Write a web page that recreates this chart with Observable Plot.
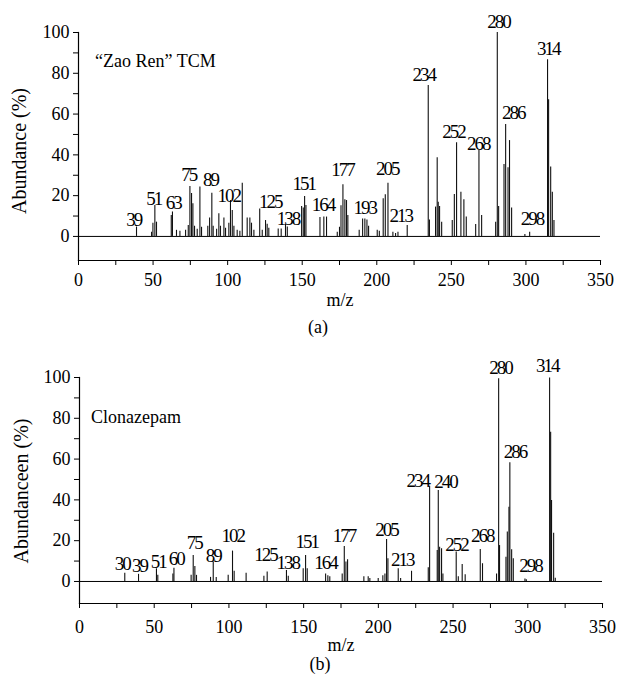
<!DOCTYPE html>
<html>
<head>
<meta charset="utf-8">
<script src="https://cdn.jsdelivr.net/npm/d3@7"></script>
<script src="https://cdn.jsdelivr.net/npm/@observablehq/plot@0.6"></script>
<style>
  body { margin: 0; background: #fff; }
  #fig { position: relative; width: 628px; height: 685px; font-family: "Liberation Serif", "Times New Roman", serif; color: #000; }
  #fig svg { position: absolute; left: 0; }
  .t { position: absolute; white-space: nowrap; transform: translate(-50%, -50%); line-height: 1; }
  .ylab { position: absolute; white-space: nowrap; transform: translate(-50%, -50%) rotate(-90deg); font-size: 20px; line-height: 1; }
  .leg { position: absolute; white-space: nowrap; font-size: 18px; line-height: 1; transform: translateY(-50%); }
</style>
</head>
<body>
<div id="fig"></div>
<script>
// ---------- data ----------
const xMajorTicks = [0, 50, 100, 150, 200, 250, 300, 350];
const xMinorTicks = [25, 75, 125, 175, 225, 275, 325];
const yMajorTicks = [0, 20, 40, 60, 80, 100];
const yMinorTicks = [10, 30, 50, 70, 90];

// (a) "Zao Ren" TCM spectrum
const tcmMz = [38.9, 49.0, 49.9, 51.2, 52.3, 62.2, 63.0, 65.7, 68.0, 71.8, 73.6, 74.7, 75.8, 76.7, 77.8, 79.6, 81.4, 82.5, 86.7, 87.9, 89.4, 90.3, 92.6, 94.1, 95.2, 97.5, 98.6, 100.8, 101.9, 103.1, 104.2, 106.4, 108.2, 109.8, 113.1, 114.9, 116.0, 117.6, 121.5, 123.2, 125.4, 126.5, 127.6, 133.9, 135.9, 138.8, 140.0, 149.6, 150.7, 151.6, 152.5, 161.9, 164.5, 166.3, 173.5, 175.0, 176.0, 177.3, 178.6, 179.7, 180.6, 188.2, 190.5, 192.0, 193.4, 194.5, 200.3, 201.7, 204.3, 205.7, 207.5, 210.8, 212.6, 214.2, 220.4, 234.5, 235.3, 239.4, 240.5, 241.2, 242.1, 243.5, 250.6, 252.0, 253.5, 256.4, 258.4, 260.0, 266.3, 268.5, 270.3, 279.7, 280.8, 281.7, 285.3, 286.4, 288.0, 289.0, 290.4, 299.3, 302.5, 314.5, 315.2, 316.6, 317.7, 318.8];
const tcmAb = [4.6, 2, 6.5, 15.2, 7, 10.3, 12, 3, 2.5, 3, 5.4, 24.5, 21, 16, 5, 3.5, 24.2, 4.5, 5, 9, 21.2, 5, 3.5, 11.1, 5, 9.1, 4, 6.5, 17.6, 12.7, 5, 3, 2.5, 26.1, 9, 9, 6.5, 3, 13.4, 3, 7.8, 6, 4, 3.7, 3.7, 5.9, 4.6, 14.7, 14, 19.6, 15.2, 9.3, 9.5, 9.5, 2, 4.5, 15, 25.3, 18, 17.6, 10.3, 3, 8.5, 8.5, 8, 5, 3, 2.5, 18.5, 20.4, 26.1, 2, 1.5, 2, 5.4, 74, 8, 14.4, 38.6, 16.8, 14.7, 7, 7.8, 20.6, 45.9, 21.7, 18, 9.5, 5.9, 42.2, 10.3, 7, 100, 14.7, 35.3, 54.9, 33.7, 47, 14, 1, 2.1, 86.6, 67, 34, 21.7, 7.8];
const tcmLabelText = ["39", "51", "63", "75", "89", "102", "125", "138", "151", "164", "177", "193", "205", "213", "234", "252", "268", "280", "286", "298", "314"];
const tcmLabelMz = [37, 50.5, 63.5, 74, 88.5, 100.8, 128.5, 140.5, 151, 164, 177, 192, 207, 216, 231.5, 251.5, 268, 281.6, 291.5, 304, 315];
const tcmLabelAb = [8.3, 18.6, 16.2, 30, 27.5, 20, 16.8, 8.4, 26, 15.7, 32.4, 14.2, 33.3, 10.3, 79, 51.5, 45.6, 105.4, 60.8, 8.8, 92];

// (b) Clonazepam spectrum
const clzMz = [30.3, 39.5, 51.5, 52.4, 62.5, 63.2, 74.7, 76.1, 77.2, 78.3, 87.7, 89.5, 91.5, 99.5, 102.4, 103.5, 111.5, 123.4, 125.6, 138.5, 139.7, 149.7, 151.3, 152.4, 164.7, 166.2, 167.5, 175.8, 177.2, 178.3, 179.4, 190.3, 193.2, 194.3, 199.9, 203.0, 204.4, 205.5, 206.4, 213.3, 214.9, 222.2, 233.4, 234.3, 239.4, 240.1, 241.0, 242.3, 243.2, 252.1, 253.5, 256.1, 258.1, 268.2, 269.7, 279.1, 280.5, 281.1, 285.4, 286.3, 287.4, 288.0, 289.2, 290.3, 298.1, 299.0, 314.6, 315.3, 315.9, 317.3, 318.4];
const clzAb = [4, 3.5, 6.2, 3, 3.7, 6.5, 3, 12.7, 7.3, 3, 2, 9.5, 2, 3, 14.9, 5, 4, 2.5, 4.6, 5.4, 2.5, 6.2, 12.7, 6.2, 3.7, 2.8, 2.3, 3.7, 17.2, 9.5, 10.6, 2.3, 2.3, 1.5, 1.5, 2.8, 3.7, 20.6, 11.1, 6.2, 1.5, 5, 6.7, 46.7, 15.2, 44.6, 16.8, 16, 3.7, 14.4, 2.3, 8.3, 3.3, 15.7, 8.7, 3.7, 99.4, 17.6, 11.9, 24.2, 36.4, 58.2, 15.5, 11.1, 1.2, 0.9, 99.8, 73.2, 39.7, 23.7, 1.6];
const clzLabelText = ["30", "39", "51", "60", "75", "89", "102", "125", "138", "151", "164", "177", "205", "213", "234", "240", "252", "268", "280", "286", "298", "314"];
const clzLabelMz = [28.6, 40.2, 52.7, 64.7, 76.8, 89.5, 102.6, 124.5, 139.4, 152, 164.7, 177, 205.5, 216, 226.4, 245, 252.3, 269.5, 281.8, 291.4, 301.9, 313];
const clzLabelAb = [8.7, 7.4, 9.8, 11.1, 19, 12.3, 22.5, 13.1, 9, 19.3, 9.2, 22.5, 25.3, 10.6, 49.5, 48.7, 18.1, 22.5, 104.7, 63.4, 7.8, 105.9];

// ---------- drawing ----------
function spectrum(o) {
  const peaks = o.mz.map((m, i) => ({ mz: m, ab: o.ab[i] }));
  const labels = o.labText.map((t, i) => ({ t, mz: o.labMz[i], ab: o.labAb[i] }));
  const svg = Plot.plot({
    width: 628,
    height: 310,
    marginTop: 32,
    marginBottom: o.marginBottom,
    marginLeft: o.marginLeft,
    marginRight: o.marginRight,
    x: { domain: [0, 350] },
    y: { domain: [o.yMin, 100] },
    style: { fontFamily: "Liberation Serif, Times New Roman, serif", fontSize: "18px", color: "#000", background: "transparent", overflow: "visible" },
    marks: [
      Plot.ruleY([0], { stroke: "#000", strokeWidth: 1 }),
      Plot.ruleX(peaks, { x: "mz", y1: 0, y2: "ab", stroke: "#111", strokeWidth: 1.1 }),
      Plot.frame({ anchor: "left", stroke: "#000", strokeWidth: 1.2 }),
      Plot.frame({ anchor: "bottom", stroke: "#000", strokeWidth: 1.2 }),
      Plot.axisY({ ticks: yMajorTicks, tickSize: 5, tickPadding: 4, label: null, fontSize: 18 }),
      Plot.axisY({ ticks: yMinorTicks, tickSize: 5, tickFormat: () => "", label: null }),
      Plot.axisX({ ticks: xMajorTicks, tickSize: 5, tickPadding: o.xPad, label: null, fontSize: 18 }),
      Plot.axisX({ ticks: xMinorTicks, tickSize: 5, tickFormat: () => "", label: null }),
      Plot.text(labels, { x: "mz", y: "ab", text: "t", fontSize: 19, lineAnchor: "middle", fill: "#000", ariaLabel: "peak" })
    ]
  });
  d3.select(svg).selectAll("g[aria-label='text'] text").attr("letter-spacing", "-2px");
  svg.style.top = o.top + "px";
  return svg;
}

const fig = document.getElementById("fig");
fig.appendChild(spectrum({
  mz: tcmMz, ab: tcmAb, labText: tcmLabelText, labMz: tcmLabelMz, labAb: tcmLabelAb,
  yMin: -11.8, marginBottom: 50, marginLeft: 78, marginRight: 28, xPad: 8, top: 0
}));
fig.appendChild(spectrum({
  mz: clzMz, ab: clzAb, labText: clzLabelText, labMz: clzLabelMz, labAb: clzLabelAb,
  yMin: -10.8, marginBottom: 52, marginLeft: 79, marginRight: 26, xPad: 12, top: 345
}));

function addText(cls, text, x, y, size) {
  const d = document.createElement("div");
  d.className = cls;
  d.textContent = text;
  d.style.left = x + "px";
  d.style.top = y + "px";
  if (size) d.style.fontSize = size + "px";
  fig.appendChild(d);
}
addText("leg", "\u201CZao Ren\u201D TCM", 95, 61);
addText("leg", "Clonazepam", 91, 417);
addText("ylab", "Abundance (%)", 19, 151);
addText("ylab", "Abundanceen (%)", 21, 491);
addText("t", "m/z", 340, 300, 18);
addText("t", "(a)", 318, 327, 18);
addText("t", "m/z", 341, 645, 18);
addText("t", "(b)", 320, 664, 18);
</script>
</body>
</html>
